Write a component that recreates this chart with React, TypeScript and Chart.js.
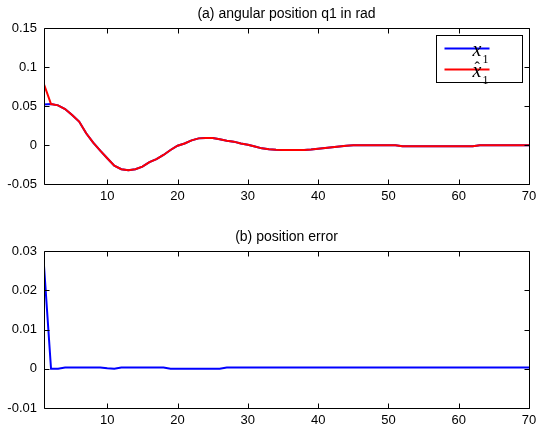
import { useEffect, useRef } from "react";
import { Chart, registerables } from "chart.js";

Chart.register(...registerables);

// ---- data ----
const steps = [
  1, 2, 3, 4, 5, 6, 7, 8, 9, 10, 11, 12, 13, 14, 15, 16, 17, 18, 19, 20,
  21, 22, 23, 24, 25, 26, 27, 28, 29, 30, 31, 32, 33, 34, 35, 36, 37, 38, 39, 40,
  41, 42, 43, 44, 45, 46, 47, 48, 49, 50, 51, 52, 53, 54, 55, 56, 57, 58, 59, 60,
  61, 62, 63, 64, 65, 66, 67, 68, 69, 70,
];

const x1True = [
  0.052, 0.0525, 0.0508, 0.0461, 0.0384, 0.03, 0.015, 0.003, -0.0073, -0.017,
  -0.0265, -0.031, -0.0325, -0.031, -0.0278, -0.022, -0.018, -0.0128, -0.0064, -0.0009,
  0.002, 0.006, 0.0085, 0.009, 0.009, 0.0073, 0.0055, 0.0043, 0.002, 0.0004,
  -0.002, -0.0043, -0.0055, -0.0062, -0.0064, -0.0064, -0.0064, -0.0063, -0.0057, -0.0048,
  -0.004, -0.003, -0.002, -0.001, -0.0003, -0.0003, -0.0003, -0.0003, -0.0003, -0.0003,
  -0.0003, -0.0017, -0.0017, -0.0017, -0.0017, -0.0017, -0.0017, -0.0017, -0.0017, -0.0017,
  -0.0017, -0.0017, -0.0003, -0.0003, -0.0003, -0.0003, -0.0003, -0.0003, -0.0003, -0.0003,
];

const x1Est = [
  0.0777, 0.0525, 0.0508, 0.0461, 0.0384, 0.03, 0.015, 0.003, -0.0073, -0.017,
  -0.0265, -0.031, -0.0325, -0.031, -0.0278, -0.022, -0.018, -0.0128, -0.0064, -0.0009,
  0.002, 0.006, 0.0085, 0.009, 0.009, 0.0073, 0.0055, 0.0043, 0.002, 0.0004,
  -0.002, -0.0043, -0.0055, -0.0062, -0.0064, -0.0064, -0.0064, -0.0063, -0.0057, -0.0048,
  -0.004, -0.003, -0.002, -0.001, -0.0003, -0.0003, -0.0003, -0.0003, -0.0003, -0.0003,
  -0.0003, -0.0017, -0.0017, -0.0017, -0.0017, -0.0017, -0.0017, -0.0017, -0.0017, -0.0017,
  -0.0017, -0.0017, -0.0003, -0.0003, -0.0003, -0.0003, -0.0003, -0.0003, -0.0003, -0.0003,
];

const posError = [
  0.0262, 0.0, 0.0, 0.0003, 0.0003, 0.0003, 0.0003, 0.0003, 0.0003, 0.0001,
  0.0, 0.0003, 0.0003, 0.0003, 0.0003, 0.0003, 0.0003, 0.0003, 0.0, 0.0,
  0.0, 0.0, 0.0, 0.0, 0.0, 0.0, 0.0003, 0.0003, 0.0003, 0.0003,
  0.0003, 0.0003, 0.0003, 0.0003, 0.0003, 0.0003, 0.0003, 0.0003, 0.0003, 0.0003,
  0.0003, 0.0003, 0.0003, 0.0003, 0.0003, 0.0003, 0.0003, 0.0003, 0.0003, 0.0003,
  0.0003, 0.0003, 0.0003, 0.0003, 0.0003, 0.0003, 0.0003, 0.0003, 0.0003, 0.0003,
  0.0003, 0.0003, 0.0003, 0.0003, 0.0003, 0.0003, 0.0003, 0.0003, 0.0003, 0.0003,
];

const xTickValues = [10, 20, 30, 40, 50, 60, 70];
const topYTicks = [-0.05, 0, 0.05, 0.1, 0.15];
const bottomYTicks = [-0.01, 0, 0.01, 0.02, 0.03];
const xRange = [1, 70];
const topYRange = [-0.05, 0.15];
const bottomYRange = [-0.01, 0.03];

const topTitle = "(a) angular position q1 in rad";
const bottomTitle = "(b) position error";
const legendBase = ["x", "x"];
const legendSub = ["1", "1"];
const legendHat = [false, true];
const legendColors = ["#0000ff", "#ff0000"];

const SANS = '"Liberation Sans", Arial, Helvetica, sans-serif';
const SERIF = '"Liberation Serif", "Times New Roman", serif';

const framePlugin = {
  id: "frame",
  afterDraw(chart: any, _args: any, opts: any) {
    const { ctx, chartArea } = chart;
    const { left, right, top, bottom } = chartArea;
    const xs = chart.scales.x;
    const ys = chart.scales.y;
    ctx.save();
    ctx.strokeStyle = "#000";
    ctx.lineWidth = 1;
    const L = Math.round(left) + 0.5;
    const R = Math.round(right) + 0.5;
    const T = Math.round(top) + 0.5;
    const B = Math.round(bottom) + 0.5;
    ctx.beginPath();
    ctx.rect(L, T, R - L, B - T);
    ctx.stroke();
    const tl = 5;
    ctx.beginPath();
    for (const v of opts.xTicks) {
      const px = Math.round(xs.getPixelForValue(v)) + 0.5;
      ctx.moveTo(px, B);
      ctx.lineTo(px, B - tl);
      ctx.moveTo(px, T);
      ctx.lineTo(px, T + tl);
    }
    for (const v of opts.yTicks) {
      const py = Math.round(ys.getPixelForValue(v)) + 0.5;
      ctx.moveTo(L, py);
      ctx.lineTo(L + tl, py);
      ctx.moveTo(R, py);
      ctx.lineTo(R - tl, py);
    }
    ctx.stroke();

    // title
    ctx.fillStyle = "#000";
    ctx.font = `14px ${SANS}`;
    ctx.textAlign = "center";
    ctx.textBaseline = "middle";
    ctx.fillText(opts.title, (left + right) / 2, top - 14);

    if (opts.legend) {
      const bx = Math.round(right) - 93 + 0.5;
      const by = Math.round(top) + 7 + 0.5;
      const bw = 86;
      const bh = 47;
      ctx.fillStyle = "#fff";
      ctx.fillRect(bx, by, bw, bh);
      ctx.strokeStyle = "#000";
      ctx.lineWidth = 1;
      ctx.strokeRect(bx, by, bw, bh);
      for (let i = 0; i < legendBase.length; i++) {
        const ly = by + 13 + i * 21;
        ctx.strokeStyle = legendColors[i];
        ctx.lineWidth = 2;
        ctx.beginPath();
        ctx.moveTo(bx + 8, ly);
        ctx.lineTo(bx + 53, ly);
        ctx.stroke();
        ctx.fillStyle = "#000";
        ctx.textAlign = "left";
        ctx.textBaseline = "alphabetic";
        ctx.font = `italic 20px ${SERIF}`;
        ctx.fillText(legendBase[i], bx + 36, ly + 7);
        ctx.font = `12px ${SERIF}`;
        ctx.fillText(legendSub[i], bx + 46, ly + 14);
        if (legendHat[i]) {
          ctx.font = `16px ${SERIF}`;
          ctx.fillText("\u02c6", bx + 38, ly + 3);
        }
      }
    }
    ctx.restore();
  },
};

function makeConfig(
  datasets: any[],
  yTicks: number[],
  yRange: number[],
  title: string,
  legend: boolean,
  padTop: number,
  xAxisHeight: number
): any {
  return {
    type: "line",
    data: { datasets },
    plugins: [framePlugin],
    options: {
      responsive: false,
      animation: false,
      devicePixelRatio: 1,
      layout: { padding: { left: 0, right: 8, top: padTop, bottom: 0 } },
      plugins: {
        legend: { display: false },
        tooltip: { enabled: false },
        title: { display: false },
        frame: { title, legend, xTicks: xTickValues, yTicks },
      },
      scales: {
        x: {
          type: "linear",
          min: xRange[0],
          max: xRange[1],
          grid: { display: false, drawTicks: false },
          border: { display: false },
          afterFit: (s: any) => {
            s.height = xAxisHeight;
            s.paddingLeft = 0;
            s.paddingRight = 0;
          },
          afterBuildTicks: (s: any) => {
            s.ticks = xTickValues.map((v) => ({ value: v }));
          },
          ticks: {
            padding: 5,
            color: "#000",
            font: { family: SANS, size: 13 },
            maxRotation: 0,
            autoSkip: false,
          },
        },
        y: {
          type: "linear",
          min: yRange[0],
          max: yRange[1],
          grid: { display: false, drawTicks: false },
          border: { display: false },
          afterFit: (s: any) => {
            s.width = 44;
            s.paddingTop = 0;
            s.paddingBottom = 0;
          },
          afterBuildTicks: (s: any) => {
            s.ticks = yTicks.map((v) => ({ value: v }));
          },
          ticks: {
            padding: 7,
            color: "#000",
            font: { family: SANS, size: 13 },
            autoSkip: false,
            callback: (v: number) => String(Number(Number(v).toFixed(4))),
          },
        },
      },
      elements: {
        point: { radius: 0 },
        line: { tension: 0, borderWidth: 2 },
      },
    },
  };
}

function toPoints(ys: number[]) {
  return steps.map((x, i) => ({ x, y: ys[i] }));
}

export default function App() {
  const topRef = useRef<HTMLCanvasElement>(null);
  const botRef = useRef<HTMLCanvasElement>(null);

  useEffect(() => {
    const c1 = new Chart(
      topRef.current as HTMLCanvasElement,
      makeConfig(
        [
          {
            label: "x1",
            data: toPoints(x1True),
            borderColor: "#0000ff",
            backgroundColor: "#0000ff",
            fill: false,
            order: 1,
          },
          {
            label: "x1 hat",
            data: toPoints(x1Est),
            borderColor: "#ff0000",
            backgroundColor: "#ff0000",
            fill: false,
            order: 0,
          },
        ],
        topYTicks,
        topYRange,
        topTitle,
        true,
        28,
        31
      )
    );
    const c2 = new Chart(
      botRef.current as HTMLCanvasElement,
      makeConfig(
        [
          {
            label: "error",
            data: toPoints(posError),
            borderColor: "#0000ff",
            backgroundColor: "#0000ff",
            fill: false,
          },
        ],
        bottomYTicks,
        bottomYRange,
        bottomTitle,
        false,
        36,
        22
      )
    );
    return () => {
      c1.destroy();
      c2.destroy();
    };
  }, []);

  return (
    <div
      style={{
        position: "absolute",
        left: 0,
        top: 0,
        width: 537,
        height: 430,
        background: "#fff",
      }}
    >
      <canvas ref={topRef} width={537} height={215} style={{ display: "block", width: 537, height: 215 }} />
      <canvas ref={botRef} width={537} height={215} style={{ display: "block", width: 537, height: 215 }} />
    </div>
  );
}
